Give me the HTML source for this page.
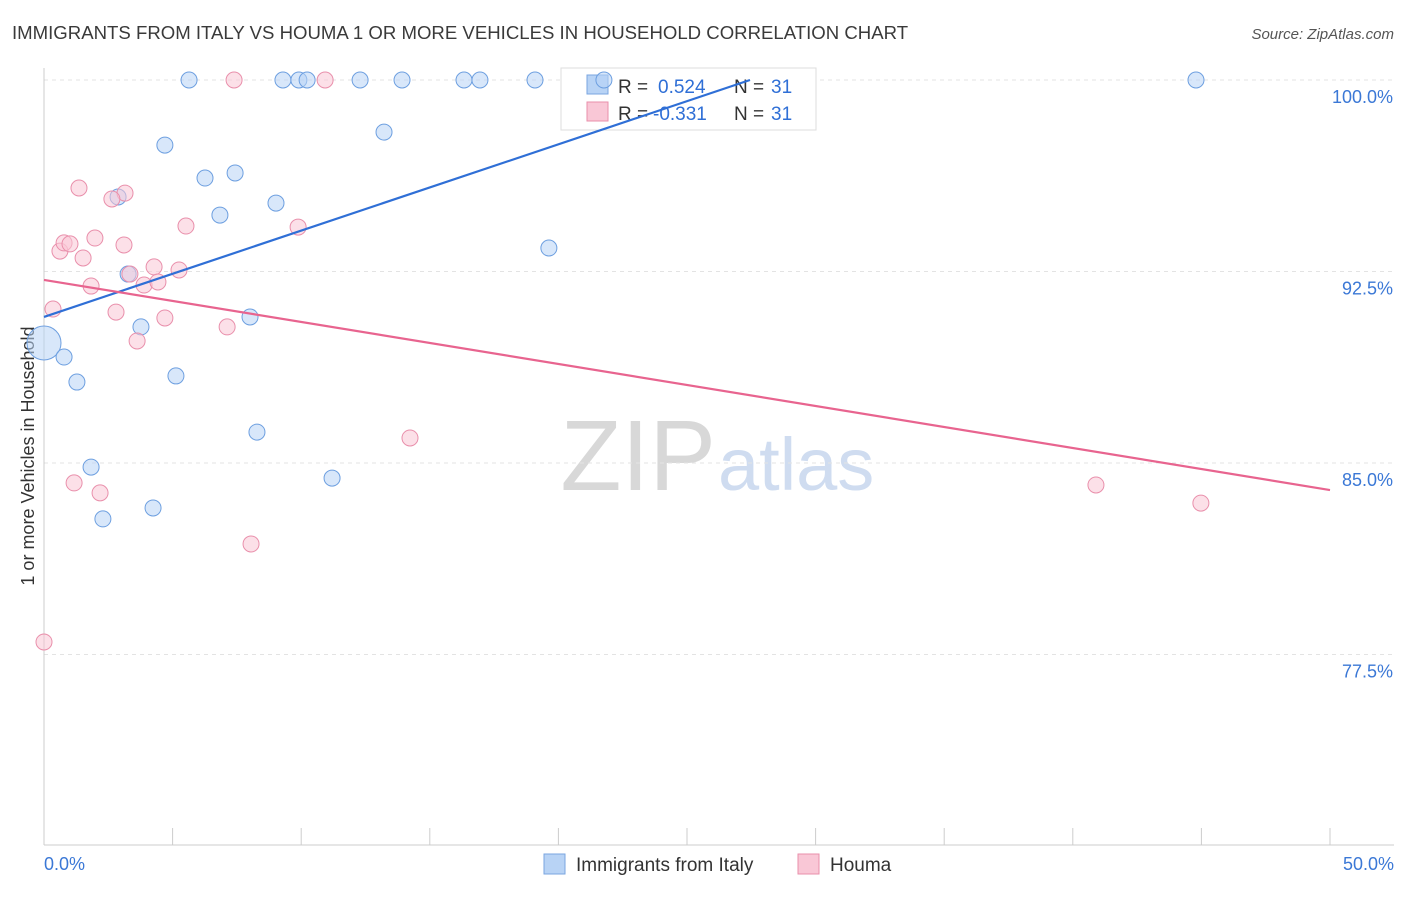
<!DOCTYPE html>
<html><head><meta charset="utf-8"><style>
body{margin:0;background:#fff;font-family:"Liberation Sans",sans-serif;}
svg text{font-family:"Liberation Sans",sans-serif;}
</style></head><body>
<svg id="chart" width="1406" height="892" viewBox="0 0 1406 892" xmlns="http://www.w3.org/2000/svg">
<text x="12" y="39" font-size="18.6" fill="#3a3a3a">IMMIGRANTS FROM ITALY VS HOUMA 1 OR MORE VEHICLES IN HOUSEHOLD CORRELATION CHART</text>
<text x="1394" y="39" font-size="15" fill="#555" text-anchor="end" font-style="italic">Source: ZipAtlas.com</text>
<text transform="translate(34,456) rotate(-90)" font-size="18" fill="#333" text-anchor="middle">1 or more Vehicles in Household</text>
<text x="716" y="490" font-size="100" text-anchor="end" fill="#d8d8d8" font-family="Liberation Serif">ZIP</text>
<text x="718" y="490" font-size="74" fill="#cfdcf0">atlas</text>
<g id="grid"></g><g id="axes"></g>
<g>
<rect x="561" y="68" width="255" height="62" fill="#fff" stroke="#ddd"/>
<rect x="587" y="75" width="21" height="19" fill="#b8d3f5" stroke="#7aa6e0"/>
<text x="618" y="93" font-size="19" fill="#333">R =</text>
<text x="658" y="93" font-size="19" fill="#2f6fd6">0.524</text>
<text x="734" y="93" font-size="19" fill="#333">N =</text>
<text x="771" y="93" font-size="19" fill="#2f6fd6">31</text>
<rect x="587" y="102" width="21" height="19" fill="#f9c7d6" stroke="#e98fab"/>
<text x="618" y="120" font-size="19" fill="#333">R =</text>
<text x="653" y="120" font-size="19" fill="#2f6fd6">-0.331</text>
<text x="734" y="120" font-size="19" fill="#333">N =</text>
<text x="771" y="120" font-size="19" fill="#2f6fd6">31</text>
</g>
<g id="marks"></g>
<g>
<rect x="544" y="854" width="21" height="20" fill="#b8d3f5" stroke="#7aa6e0"/>
<text x="576" y="871" font-size="19" fill="#333">Immigrants from Italy</text>
<rect x="798" y="854" width="21" height="20" fill="#f9c7d6" stroke="#e98fab"/>
<text x="830" y="871" font-size="19" fill="#333">Houma</text>
</g>
</svg>
<script>
const yTicks=[100,92.5,85,77.5];
const yTickLabels=["100.0%","92.5%","85.0%","77.5%"];
const xTickLabels=["0.0%","50.0%"];
const blueX=[5.64,9.29,9.91,10.23,12.29,13.92,16.33,16.95,19.09,21.77,44.79,4.70,13.22,6.26,7.43,6.84,9.02,2.88,19.63,3.27,3.77,8.01,0,0.78,1.28,5.13,8.28,1.83,11.20,4.24,2.29];
const blueY=[100,100,100,100,100,100,100,100,100,100,100,97.45,97.96,96.16,96.36,94.71,95.18,95.42,93.42,92.40,90.33,90.72,89.70,89.15,88.17,88.41,86.21,84.84,84.41,83.24,82.81];
const pinkX=[7.39,10.93,1.36,3.15,2.64,5.52,9.88,0.62,0.78,1.01,1.98,3.11,1.52,4.28,5.25,3.34,1.83,3.89,4.43,0.35,2.80,4.70,7.12,3.62,14.23,1.17,2.18,8.05,0,40.9,44.98];
const pinkY=[100,100,95.77,95.57,95.34,94.28,94.24,93.30,93.62,93.58,93.81,93.54,93.03,92.68,92.56,92.40,91.93,91.97,92.09,91.03,90.91,90.68,90.33,89.78,85.98,84.22,83.83,81.83,77.99,84.14,83.43];
const blueTrendX=[0,27.45];
const blueTrendY=[90.72,100];
const pinkTrendX=[0,50];
const pinkTrendY=[92.17,83.94];
const NS="http://www.w3.org/2000/svg";
const X=v=>44+v/50*1286;
const Y=v=>80+(100-v)/7.5*191.5;
function mk(tag,attrs,parent){const e=document.createElementNS(NS,tag);for(const k in attrs)e.setAttribute(k,attrs[k]);document.getElementById(parent).appendChild(e);return e;}
yTicks.forEach((t,i)=>{
 const l=mk('line',{x1:44,x2:1394,y1:Y(t),y2:Y(t),stroke:'#e3e3e3','stroke-dasharray':'4,4'},'grid');
 
 
 const tx=mk('text',{x:1393,y:Y(t)+23,'font-size':18,fill:'#3b78d6','text-anchor':'end'},'axes');
 tx.textContent=yTickLabels[i];
 
 
});
const ax=mk('line',{x1:44,x2:44,y1:68,y2:845,stroke:'#ccc'},'axes');


const bx=mk('line',{x1:44,x2:1394,y1:845,y2:845,stroke:'#ccc'},'axes');


for(let i=0;i<=10;i++){const t=mk('line',{x1:X(i*5),x2:X(i*5),y1:828,y2:845,stroke:'#ccc'},'axes');
 
 }
[[0,'start',44],[50,'end',1394]].forEach((d,i)=>{const t=mk('text',{x:d[2],y:870,'font-size':18,fill:'#3b78d6','text-anchor':d[1]},'axes');t.textContent=xTickLabels[i];
 
 });
function pts(xs,ys,fill,stroke,name){xs.forEach((x,i)=>{const r=(x===0&&ys[i]>89&&ys[i]<90)?17:8;
 const c=mk('circle',{cx:X(x),cy:Y(ys[i]),r:r,fill:fill,'fill-opacity':0.55,stroke:stroke,'stroke-width':1},'marks');
 
 });}
pts(blueX,blueY,'#b8d3f5','#6d9fe0','point-italy');
pts(pinkX,pinkY,'#f9c7d6','#e98fab','point-houma');
const bl=mk('line',{x1:X(blueTrendX[0]),y1:Y(blueTrendY[0]),x2:X(blueTrendX[1]),y2:Y(blueTrendY[1]),stroke:'#2f6fd6','stroke-width':2.2},'marks');


const pl=mk('line',{x1:X(pinkTrendX[0]),y1:Y(pinkTrendY[0]),x2:X(pinkTrendX[1]),y2:Y(pinkTrendY[1]),stroke:'#e8648f','stroke-width':2.2},'marks');


</script>
</body></html>
